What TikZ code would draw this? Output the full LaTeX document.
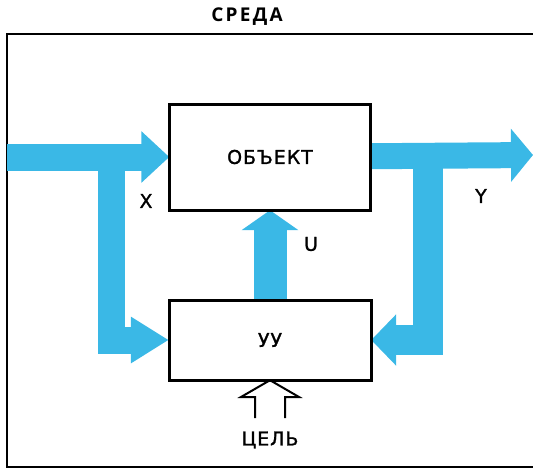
\documentclass[tikz,border=0pt]{standalone}
\usepackage{fontspec}
\setmainfont{Open Sans}[LetterSpace=12]
\newfontfamily\lblfont{DejaVu Sans}[LetterSpace=5,FakeBold=1.2]
\usetikzlibrary{arrows.meta}
\definecolor{flow}{RGB}{58,184,230}
\begin{document}
\begin{tikzpicture}[x=1pt,y=-1pt,
  box/.style={draw=black,line width=3pt,fill=white,rectangle,inner sep=0pt},
  lbl/.style={font=\lblfont\fontsize{19}{21}\selectfont,inner sep=0pt},
  band/.style={draw=flow,line width=#1,line join=miter},
  frame/.style={draw=black,line width=2pt}]
\useasboundingbox (0,0) rectangle (533,469);
% frame
\draw[frame] (533,34) -- (7,34) -- (7,467) -- (533,467);
\node[inner sep=0pt,font=\fontsize{19}{21}\selectfont\bfseries] (env) at (247,17) {СРЕДА};
% coordinates
\coordinate (in) at (7,157);
\coordinate (out) at (533,155);
\coordinate (jl) at (111,157);
\coordinate (jr) at (428,157);
% boxes (placed first so names exist; drawn on top later)
\path (270,157) node[minimum width=201pt,minimum height=106pt,inner sep=0pt] (obj) {};
\path (270,340) node[minimum width=202pt,minimum height=80pt,inner sep=0pt] (uu) {};
% blue flows
\draw[band=27pt,-{Triangle[length=28pt 0,width=50pt 0]}] (in) -- (obj);
\draw[band=27pt,-{Triangle[length=38pt 0,width=44pt 0]}] (jl) |- (uu);
\draw[band=26pt,-{Triangle[length=22pt 0,width=52pt 0]}] (obj) -- (out);
\draw[band=30pt,-{Triangle[length=25pt 0,width=50pt 0]}] (jr) |- (uu);
\draw[band=33pt,-{Triangle[length=20pt 0,width=56pt 0]}] (uu) -- (obj);
% boxes drawn
\node[box,minimum width=201pt,minimum height=106pt,lbl] at (obj) {ОБЪЕКТ};
\node[box,minimum width=202pt,minimum height=80pt,lbl] at (uu) {УУ};
% labels
\node[lbl] (xl) at (146,201) {X};
\node[lbl] (yl) at (481,196) {Y};
\node[lbl] (ul) at (311,244) {U};
\node[lbl] (goal) at (270,440) {ЦЕЛЬ};
% open arrow ЦЕЛЬ
\coordinate (gt) at (uu.south);
\draw[line width=2pt,line join=miter] (255,418) -- (255,397) -- (241,397) -- (gt) -- (299,397) -- (285,397) -- (285,418);
\end{tikzpicture}
\end{document}
